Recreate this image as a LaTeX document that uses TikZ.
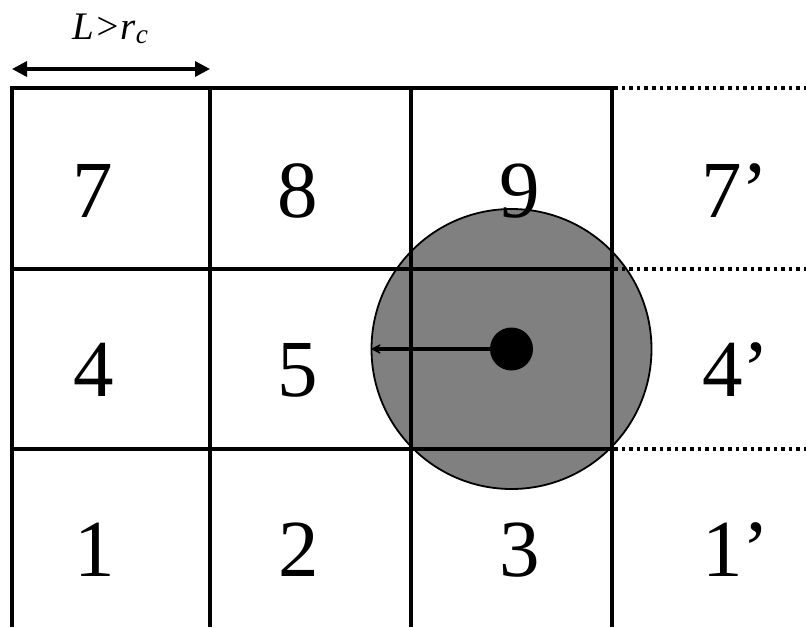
\documentclass[tikz,border=0pt]{standalone}
\usepackage{fontspec}
\setmainfont{Liberation Serif}
\usetikzlibrary{arrows.meta}
\begin{document}
\begin{tikzpicture}[x=1pt,y=-1pt,
  gridline/.style={line width=3.6pt},
  dotline/.style={line width=3.6pt, dash pattern=on 3.6pt off 4pt},
  num/.style={font=\fontsize{81}{81}\selectfont, inner sep=0pt, anchor=base},
  nump/.style={num, anchor=base west}]
\useasboundingbox (0,0) rectangle (806,627);
% cut-off sphere
\node[circle, draw, line width=1.8pt, fill=black!50, minimum size=280pt, inner sep=0pt] (halo) at (511.5,349) {};
% grid
\draw[gridline] (12,627) -- (12,88) -- (612,88) -- (612,627);
\draw[gridline] (210,88) -- (210,627);
\draw[gridline] (411,88) -- (411,627);
\draw[gridline] (12,269) -- (612,269);
\draw[gridline] (12,449) -- (612,449);
% periodic images (dotted)
\draw[dotline] (614,88) -- (806,88);
\draw[dotline] (614,269) -- (806,269);
\draw[dotline] (614,449) -- (806,449);
% cell labels
\node[num] (c7) at (93,217) {7};
\node[num] (c8) at (298,217) {8};
\node[num] (c9) at (520,217) {9};
\node[nump] (c7p) at (701,217) {7’};
\node[num] (c4) at (94,396) {4};
\node[num] (c5) at (298,396) {5};
\node[nump] (c4p) at (702,396) {4’};
\node[num] (c1) at (95,576) {1};
\node[num] (c2) at (299,576) {2};
\node[num] (c3) at (520,576) {3};
\node[nump] (c1p) at (702,576) {1’};
% particle and cutoff radius
\node[circle, fill=black, minimum size=43pt, inner sep=0pt] (p) at (511.5,349) {};
\draw[line width=3.6pt, -{Stealth[length=16pt,width=16pt,inset=11pt]}] (p.west) -- (halo.west);
% cell size label
\coordinate (la) at (12,69);
\coordinate (lb) at (210,69);
\draw[line width=3.4pt, {Triangle[length=15pt,width=15pt]}-{Triangle[length=15pt,width=15pt]}] (la) -- (lb);
\node[font=\fontsize{39}{39}\selectfont\itshape, anchor=base, inner sep=0pt] (lbl) at (110.5,39) {L>r\textsubscript{c}};
\end{tikzpicture}
\end{document}
